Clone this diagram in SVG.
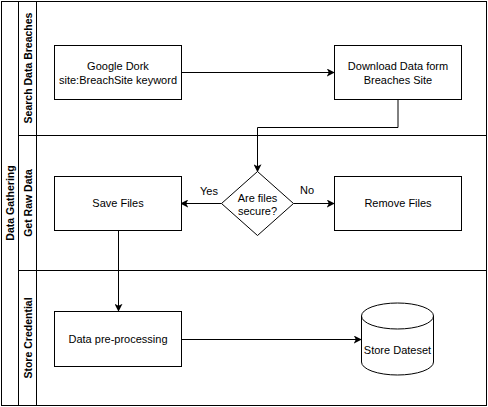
<svg xmlns="http://www.w3.org/2000/svg" width="488" height="407" viewBox="0 0 488 407">
<style>
.ln{fill:none;stroke:#000;stroke-width:1}
.box{fill:#fff;stroke:#000;stroke-width:1}
.t{font-family:"Liberation Sans",Arial,sans-serif;font-size:11px;fill:#000;text-anchor:middle}
.b{font-family:"Liberation Sans",Arial,sans-serif;font-size:10.5px;font-weight:bold;fill:#000;text-anchor:middle;dominant-baseline:central}
</style>
<defs>
<marker id="ah" viewBox="0 0 10 10" refX="9" refY="5" markerWidth="8" markerHeight="8" markerUnits="userSpaceOnUse" orient="auto">
<path d="M0,0 L10,5 L0,10 L2.5,5 Z" fill="#000"/>
</marker>
</defs>
<rect width="488" height="407" fill="#fff"/>
<g id="pool">
<rect class="ln" x="1.5" y="1.5" width="485" height="404"/>
<line class="ln" x1="18.5" y1="1.5" x2="18.5" y2="405.5"/>
<line class="ln" x1="36.5" y1="1.5" x2="36.5" y2="405.5"/>
<line class="ln" x1="18.5" y1="135.5" x2="486.5" y2="135.5" stroke="#444"/>
<line class="ln" x1="18.5" y1="270.5" x2="486.5" y2="270.5" stroke="#444"/>
<text class="b" transform="translate(10,203) rotate(-90)">Data Gathering</text>
</g>
<g id="lane1"><text class="b" transform="translate(27.5,68) rotate(-90)">Search Data Breaches</text></g>
<g id="lane2"><text class="b" transform="translate(27.5,203) rotate(-90)">Get Raw Data</text></g>
<g id="lane3"><text class="b" transform="translate(27.5,338) rotate(-90)">Store Credential</text></g>
<g id="connectors">
<line class="ln" x1="181" y1="72.5" x2="334" y2="72.5" marker-end="url(#ah)"/>
<polyline class="ln" points="398,99.5 398,127.5 257.5,127.5 257.5,171.5" marker-end="url(#ah)"/>
<line class="ln" x1="221.5" y1="203.5" x2="181" y2="203.5" marker-end="url(#ah)"/>
<line class="ln" x1="293.5" y1="203.5" x2="334" y2="203.5" marker-end="url(#ah)"/>
<line class="ln" x1="118.5" y1="230.5" x2="118.5" y2="311" marker-end="url(#ah)"/>
<line class="ln" x1="181" y1="339.5" x2="361" y2="339.5" marker-end="url(#ah)"/>
<text class="t" x="209" y="195">Yes</text>
<text class="t" x="307" y="194">No</text>
</g>
<g id="google">
<rect class="box" x="54.5" y="45.5" width="127" height="54"/>
<text class="t" x="118" y="70">Google Dork</text>
<text class="t" x="118" y="83.5">site:BreachSite keyword</text>
</g>
<g id="download">
<rect class="box" x="334.5" y="45.5" width="127" height="54"/>
<text class="t" x="398" y="70">Download Data form</text>
<text class="t" x="398" y="83.5">Breaches Site</text>
</g>
<g id="decision">
<polygon class="box" points="257.5,171.5 293.5,203.5 257.5,235.5 221.5,203.5"/>
<text class="t" x="257.5" y="202">Are files</text>
<text class="t" x="257.5" y="215">secure?</text>
</g>
<g id="save">
<rect class="box" x="54.5" y="176.5" width="127" height="54"/>
<text class="t" x="118" y="207">Save Files</text>
</g>
<g id="remove">
<rect class="box" x="334.5" y="176.5" width="127" height="54"/>
<text class="t" x="398" y="207">Remove Files</text>
</g>
<g id="preprocess">
<rect class="box" x="54.5" y="311.5" width="127" height="55"/>
<text class="t" x="118" y="343">Data pre-processing</text>
</g>
<g id="dataset">
<path class="box" d="M361.5,316 a36,13 0 0 1 72,0 v46 a36,13 0 0 1 -72,0 z"/>
<path class="ln" d="M361.5,316 a36,13 0 0 0 72,0"/>
<text class="t" x="397.5" y="354">Store Dateset</text>
</g>
</svg>
